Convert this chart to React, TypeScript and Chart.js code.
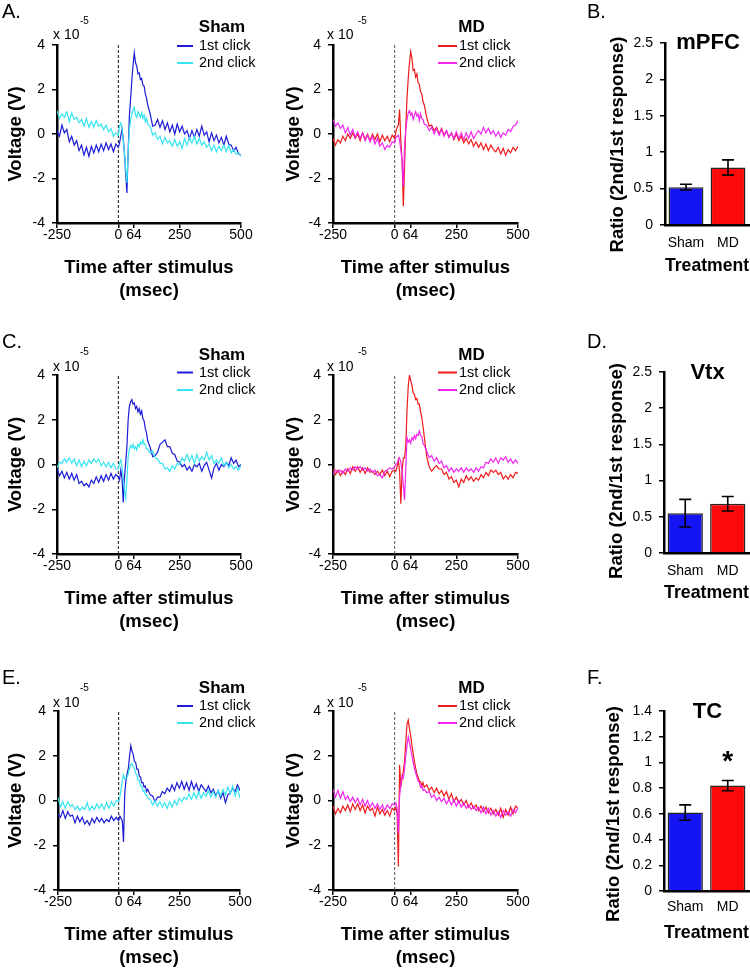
import React, { useEffect, useRef } from 'react';
import { Chart, registerables } from 'chart.js';

Chart.register(...registerables);

const FONT = "'Liberation Sans', Arial, Helvetica, sans-serif";
Chart.defaults.font.family = FONT;
Chart.defaults.color = '#000';

// ---------------- DATA ----------------
// time after stimulus (msec)
const T = [
  -250, -240, -230, -220, -210, -200, -190, -180, -170, -160, -150, -140, -130, -120, -110, -100, -90, -80, -70, -60, -50, -40, -30, -20, -10,
  0, 5, 10, 15, 20, 25, 30, 35, 40, 45, 50, 55, 60, 65, 70, 75, 80, 85, 90, 95, 100, 105, 110, 115, 120,
  130, 140, 150, 160, 170, 180, 190, 200, 210, 220, 230, 240, 250, 260, 270, 280, 290, 300, 310, 320, 330, 340, 350, 360, 370, 380, 390, 400, 410, 420, 430, 440, 450, 460, 470, 480, 490, 500,
];
const X_TICKS = [-250, 0, 64, 250, 500];
const Y_TICKS = [-4, -2, 0, 2, 4];
const STIM_TIME = 0;

// voltage (x 10^-5 V)
const MPFC_SHAM_1ST = [
  0.15, -0.1, 0.4, 0.05, 0.2, -0.35, -0.1, -0.5, -0.3, -0.75, -0.5, -0.95, -0.6, -1.0, -0.55, -0.85, -0.5, -0.8, -0.45, -0.75, -0.4, -0.7, -0.45, -0.8, -0.45,
  -0.6, -0.4, -0.1, 0.2, -0.2, -0.9, -1.8, -2.65, -0.8, 0.8, 1.6, 2.4, 3.1, 3.65, 3.2, 3.05, 2.7, 2.75, 2.45, 2.5, 2.2, 2.15, 1.8, 1.6, 1.3,
  0.9, 0.35, 0.4, 0.65, 0.3, 0.6, 0.2, 0.5, 0.1, 0.4, 0.0, 0.45, 0.1, 0.35, 0.0, 0.15, -0.2, 0.15, -0.15, 0.2, -0.1, 0.35, -0.05, 0.1, -0.35, 0.05, -0.3, -0.05, -0.4, -0.15, -0.5, -0.1, -0.45, -0.5, -0.75, -0.6, -0.9, -0.95,
];
const MPFC_SHAM_2ND = [
  1.05, 0.7, 0.9, 0.75, 1.0, 0.55, 0.95, 0.65, 0.75, 0.5, 0.65, 0.35, 0.7, 0.3, 0.55, 0.3, 0.6, 0.35, 0.45, 0.2, 0.4, 0.1, 0.25, -0.1, 0.05,
  -0.05, 0.35, 0.5, 0.3, -0.3, -0.8, -1.6, -2.2, -0.8, 0.2, 0.6, 0.9, 1.1, 1.2, 0.85, 0.75, 1.0, 0.9, 0.75, 0.95, 0.7, 0.85, 0.55, 0.7, 0.45,
  0.35, -0.05, 0.05, -0.25, -0.1, -0.45, -0.15, -0.4, -0.3, -0.55, -0.25, -0.55, -0.35, -0.65, -0.2, -0.5, -0.15, -0.4, -0.1, -0.45, -0.2, -0.5, -0.35, -0.6, -0.45, -0.75, -0.5, -0.8, -0.55, -0.75, -0.5, -0.8, -0.5, -0.85, -0.7, -0.9, -0.85, -1.0,
];
const MPFC_MD_1ST = [
  -0.2, -0.5, -0.25, -0.4, -0.1, -0.3, 0.0, -0.2, 0.05, -0.2, 0.0, -0.3, 0.05, -0.25, 0.0, -0.3, 0.0, -0.25, 0.0, -0.35, -0.05, -0.3, -0.1, -0.35, -0.05,
  -0.2, 0.1, 0.3, 0.4, 1.1, -0.3, -1.2, -3.25, -1.5, 0.3, 1.6, 2.5, 3.2, 3.7, 3.4, 2.85, 2.9, 2.55, 2.7, 2.3, 2.25, 1.9, 1.8, 1.45, 1.3,
  0.75, 0.35, 0.4, 0.15, 0.3, 0.0, 0.25, -0.05, 0.15, -0.15, 0.05, -0.25, 0.0, -0.3, -0.1, -0.4, -0.2, -0.45, -0.25, -0.55, -0.35, -0.6, -0.4, -0.7, -0.45, -0.75, -0.5, -0.7, -0.8, -0.6, -0.9, -0.65, -0.95, -0.7, -0.85, -0.6, -0.75, -0.55,
];
const MPFC_MD_2ND = [
  0.65, 0.35, 0.5, 0.25, 0.4, 0.05, 0.3, -0.05, 0.2, -0.15, 0.1, -0.2, 0.05, -0.3, -0.05, -0.35, -0.1, -0.45, -0.2, -0.55, -0.4, -0.7, -0.5, -0.6, -0.35,
  -0.4, -0.15, -0.1, -0.05, -0.3, -0.7, -1.2, -2.35, -0.6, 0.2, 0.65, 0.95, 1.05, 0.85, 0.95, 0.65, 0.85, 1.0, 0.8, 0.9, 0.6, 0.9, 0.7, 0.65, 0.45,
  0.4, 0.15, 0.3, 0.0, 0.25, -0.05, 0.2, -0.1, 0.15, -0.15, 0.05, -0.2, 0.1, -0.2, 0.05, -0.25, 0.05, -0.2, 0.1, -0.2, 0.0, 0.15, 0.0, 0.3, 0.05, 0.25, 0.0, 0.15, -0.1, 0.1, -0.15, 0.05, -0.05, 0.2, 0.1, 0.35, 0.4, 0.6,
];
const VTX_SHAM_1ST = [
  -0.2, -0.5, -0.3, -0.6, -0.35, -0.65, -0.4, -0.7, -0.45, -0.85, -0.75, -0.95, -0.85, -1.0, -0.7, -0.85, -0.55, -0.8, -0.5, -0.75, -0.45, -0.7, -0.4, -0.65, -0.45,
  -0.55, -0.7, -0.25, -0.6, -1.7, -0.6, 0.1, 0.8, 2.0, 2.6, 2.8, 2.9, 2.7, 2.75, 2.5, 2.6, 2.35, 2.5, 2.25, 2.4, 2.05, 1.95, 1.6, 1.4, 1.05,
  0.75, 0.35, 0.4, 0.55, 0.9, 1.0, 1.1, 0.8, 0.8, 0.5, 0.45, 0.15, 0.1, -0.1, 0.0, -0.25, -0.1, -0.3, 0.0, -0.1, 0.05, -0.3, -0.05, 0.1, -0.25, -0.6, -0.15, 0.05, -0.25, 0.0, -0.1, 0.1, -0.05, 0.3, 0.05, 0.2, -0.1, 0.0,
];
const VTX_SHAM_2ND = [
  -0.15, 0.1, 0.05, 0.25, 0.1, 0.3, 0.05, 0.25, -0.05, 0.2, -0.1, 0.15, -0.05, 0.2, 0.05, 0.25, 0.1, 0.25, -0.05, 0.1, -0.1, 0.1, -0.15, 0.05, -0.2,
  -0.2, 0.05, 0.2, -0.1, -0.55, -1.15, -1.5, -0.7, 0.35, 0.7, 0.85, 0.75, 0.9, 0.7, 0.8, 0.65, 0.9, 0.8, 1.0, 0.9, 1.1, 0.9, 0.9, 0.7, 0.7,
  0.5, 0.6, 0.3, 0.25, 0.05, 0.05, -0.2, -0.15, -0.3, -0.05, -0.2, 0.05, 0.0, 0.3, 0.15, 0.45, 0.15, 0.4, 0.05, 0.45, 0.15, 0.35, 0.2, 0.55, 0.2, 0.4, 0.05, 0.2, 0.05, 0.3, -0.05, 0.1, -0.15, 0.0, -0.2, -0.1, -0.25, -0.05,
];
const VTX_MD_1ST = [
  -0.2, -0.45, -0.25, -0.5, -0.3, -0.45, -0.2, -0.4, -0.1, -0.3, -0.1, -0.35, -0.15, -0.4, -0.15, -0.35, -0.3, -0.45, -0.3, -0.45, -0.25, -0.5, -0.3, -0.55, -0.3,
  -0.25, -0.3, -0.1, 0.2, -0.3, -1.75, -0.3, 0.3, 0.3, 0.8, 2.4, 3.5, 4.0, 3.75, 3.55, 3.2, 3.15, 2.9, 2.95, 2.7, 2.7, 2.35, 2.1, 1.7, 1.25,
  0.35, -0.1, -0.3, -0.15, -0.05, -0.2, -0.2, -0.45, -0.35, -0.65, -0.55, -0.8, -0.7, -1.0, -0.65, -0.8, -0.5, -0.7, -0.55, -0.75, -0.6, -0.7, -0.45, -0.6, -0.35, -0.5, -0.25, -0.35, -0.25, -0.45, -0.35, -0.65, -0.5, -0.65, -0.45, -0.6, -0.35, -0.4,
];
const VTX_MD_2ND = [
  -0.45, -0.25, -0.35, -0.25, -0.4, -0.2, -0.3, -0.15, -0.25, -0.1, -0.2, -0.1, -0.25, -0.15, -0.3, -0.2, -0.35, -0.25, -0.5, -0.45, -0.6, -0.3, -0.25, -0.15, -0.2,
  -0.1, 0.0, 0.05, 0.2, 0.3, 0.1, -0.3, -0.9, -1.6, -0.2, 1.2, 1.0, 1.1, 0.95, 1.2, 1.1, 1.3, 1.15, 1.35, 1.3, 1.5, 1.3, 1.25, 0.95, 0.85,
  0.6, 0.3, 0.4, 0.15, 0.3, 0.05, 0.15, -0.15, -0.05, -0.3, -0.15, -0.35, -0.2, -0.3, -0.15, -0.35, -0.15, -0.3, -0.2, -0.35, -0.15, -0.3, -0.1, -0.15, 0.1, 0.05, 0.25, 0.1, 0.3, 0.05, 0.3, 0.2, 0.35, 0.1, 0.25, 0.05, 0.2, 0.05,
];
const TC_SHAM_1ST = [
  -0.6, -0.75, -0.45, -0.8, -0.5, -0.7, -0.65, -1.0, -0.7, -0.95, -0.75, -1.05, -0.9, -1.1, -0.8, -1.0, -0.75, -0.95, -0.8, -1.0, -0.85, -0.95, -0.7, -0.9, -0.75,
  -0.9, -0.7, -0.8, -0.9, -1.85, 0.3, 0.9, 1.2, 1.45, 2.0, 2.45, 2.2, 2.05, 1.75, 1.7, 1.4, 1.4, 1.1, 1.05, 0.8, 0.8, 0.6, 0.65, 0.4, 0.5,
  0.25, 0.2, -0.05, 0.15, 0.15, 0.4, 0.3, 0.55, 0.4, 0.7, 0.45, 0.8, 0.55, 0.85, 0.5, 0.8, 0.45, 0.85, 0.5, 0.75, 0.4, 0.7, 0.55, 0.4, 0.65, 0.35, 0.5, 0.2, 0.45, 0.1, 0.35, -0.1, 0.25, 0.35, 0.55, 0.4, 0.7, 0.45,
];
const TC_SHAM_2ND = [
  0.15, -0.3, -0.05, -0.35, -0.05, -0.25, -0.2, -0.4, -0.25, -0.45, -0.3, -0.4, -0.1, -0.45, -0.25, -0.4, -0.15, -0.35, -0.15, -0.4, -0.1, -0.35, -0.05, -0.25, 0.0,
  -0.05, 0.15, 0.5, 0.9, 1.15, 0.95, 1.0, 1.05, 1.2, 1.45, 1.6, 1.65, 1.5, 1.45, 1.2, 1.15, 0.9, 0.9, 0.65, 0.65, 0.4, 0.45, 0.25, 0.25, 0.1,
  0.05, -0.2, 0.0, -0.25, -0.05, -0.3, -0.1, -0.35, -0.05, -0.3, 0.0, -0.2, 0.1, -0.05, 0.15, 0.05, 0.3, 0.05, 0.35, 0.1, 0.4, 0.1, 0.35, 0.2, 0.45, 0.15, 0.4, 0.15, 0.45, 0.2, 0.5, 0.25, 0.6, 0.3, 0.65, 0.2, 0.55, 0.1,
];
const TC_MD_1ST = [
  -0.25, -0.6, -0.35, -0.55, -0.25, -0.45, -0.2, -0.5, -0.15, -0.4, -0.15, -0.45, -0.2, -0.55, -0.25, -0.45, -0.35, -0.7, -0.3, -0.6, -0.4, -0.65, -0.45, -0.7, -0.35,
  -0.45, -0.3, -0.6, -2.95, 1.6, 0.6, 1.0, 1.3, 1.75, 2.6, 3.4, 3.6, 3.2, 2.9, 2.45, 2.1, 1.75, 1.45, 1.2, 1.05, 0.85, 0.85, 0.65, 0.8, 0.6,
  0.7, 0.45, 0.6, 0.35, 0.55, 0.3, 0.45, 0.2, 0.4, 0.05, 0.3, -0.05, 0.15, -0.1, 0.05, -0.2, 0.0, -0.3, -0.1, -0.35, -0.2, -0.45, -0.25, -0.5, -0.3, -0.55, -0.35, -0.6, -0.4, -0.65, -0.35, -0.75, -0.4, -0.65, -0.3, -0.6, -0.25, -0.35,
];
const TC_MD_2ND = [
  0.5, 0.15, 0.45, 0.1, 0.4, 0.05, 0.2, -0.05, 0.15, -0.1, 0.1, -0.2, 0.05, -0.25, 0.0, -0.3, -0.1, -0.35, -0.15, -0.4, -0.2, -0.45, -0.2, -0.35, -0.15,
  -0.2, -0.1, -0.35, -1.45, 0.2, 0.7, 1.1, 1.0, 1.4, 2.0, 2.45, 2.85, 2.6, 2.3, 2.0, 1.7, 1.45, 1.25, 1.05, 0.85, 0.8, 0.6, 0.65, 0.45, 0.5,
  0.35, 0.4, 0.15, 0.25, 0.0, 0.15, -0.05, 0.1, -0.15, 0.05, -0.2, 0.05, -0.25, 0.0, -0.3, -0.1, -0.35, -0.2, -0.4, -0.25, -0.45, -0.3, -0.55, -0.3, -0.6, -0.35, -0.65, -0.45, -0.7, -0.5, -0.75, -0.45, -0.65, -0.5, -0.7, -0.4, -0.55, -0.3,
];

// ratio (2nd/1st response)
const CATEGORIES = ['Sham', 'MD'];
const MPFC_RATIO = [0.52, 0.79];
const MPFC_SEM = [0.04, 0.105];
const VTX_RATIO = [0.55, 0.68];
const VTX_SEM = [0.19, 0.1];
const TC_RATIO = [0.61, 0.82];
const TC_SEM = [0.06, 0.04];
const TC_SIGNIFICANT = [false, true];

// ---------------- STYLE / LAYOUT ----------------
const BLUE = '#1c1cd6';
const CYAN = '#36e4f0';
const RED = '#ee1c1c';
const MAGENTA = '#f026ee';
const BAR_BLUE = '#1414f4';
const BAR_RED = '#fa0a0a';
const TITLE_SIZE = 18.5;
const TITLE_LH = 23;

type Box = { x: number; y: number; w: number; h: number };
type Plot = { L: number; R: number; T: number; B: number };
type TextItem = { text: string; x: number; y: number; size: number; bold?: boolean; align?: CanvasTextAlign; rot?: number; base?: CanvasTextBaseline };
type SegItem = { x1: number; y1: number; x2: number; y2: number; color: string; width: number };

function decorPlugin(box: Box, texts: TextItem[], segs: SegItem[]) {
  return {
    id: 'decor',
    afterDraw(chart: any) {
      const ctx = chart.ctx as CanvasRenderingContext2D;
      ctx.save();
      for (const s of segs) {
        ctx.beginPath();
        ctx.strokeStyle = s.color;
        ctx.lineWidth = s.width;
        ctx.moveTo(s.x1 - box.x, s.y1 - box.y);
        ctx.lineTo(s.x2 - box.x, s.y2 - box.y);
        ctx.stroke();
      }
      for (const t of texts) {
        ctx.save();
        ctx.translate(t.x - box.x, t.y - box.y);
        if (t.rot) ctx.rotate(t.rot);
        ctx.font = `${t.bold ? 'bold ' : ''}${t.size}px ${FONT}`;
        ctx.fillStyle = '#000';
        ctx.textAlign = t.align ?? 'left';
        ctx.textBaseline = t.base ?? 'middle';
        ctx.fillText(t.text, 0, 0);
        ctx.restore();
      }
      ctx.restore();
    },
  };
}

function errorBarPlugin(sem: number[], star: boolean[]) {
  return {
    id: 'errbars',
    afterDatasetsDraw(chart: any) {
      const ctx = chart.ctx as CanvasRenderingContext2D;
      const ys = chart.scales.y;
      const vals = chart.data.datasets[0].data as number[];
      const meta = chart.getDatasetMeta(0);
      ctx.save();
      ctx.strokeStyle = '#000';
      ctx.lineWidth = 1.6;
      meta.data.forEach((bar: any, i: number) => {
        const x = bar.x;
        const hi = ys.getPixelForValue(vals[i] + sem[i]);
        const lo = ys.getPixelForValue(vals[i] - sem[i]);
        ctx.beginPath();
        ctx.moveTo(x, hi); ctx.lineTo(x, lo);
        ctx.moveTo(x - 6, hi); ctx.lineTo(x + 6, hi);
        ctx.moveTo(x - 6, lo); ctx.lineTo(x + 6, lo);
        ctx.stroke();
        if (star[i]) {
          ctx.font = `bold 28px ${FONT}`;
          ctx.fillStyle = '#000';
          ctx.textAlign = 'center';
          ctx.textBaseline = 'alphabetic';
          ctx.fillText('*', x, hi - 10);
        }
      });
      ctx.restore();
    },
  };
}

const axisGrid = { display: true, drawOnChartArea: false, drawTicks: true, tickLength: 5, color: '#000', lineWidth: 1.5 };
const axisBorder = { display: true, color: '#000', width: 2.5 };

type RowMeta = { box: [number, number]; plotTB: [number, number]; letterY: number; lgTitleY: number; e1: number; e2: number; xtenY: number; supY: number };
const ROWS: RowMeta[] = [
  { box: [0, 310], plotTB: [45, 223], letterY: 12, lgTitleY: 27, e1: 46, e2: 63, xtenY: 35, supY: 21.5 },
  { box: [310, 330], plotTB: [375, 554], letterY: 342, lgTitleY: 355, e1: 372.5, e2: 390, xtenY: 366.7, supY: 352 },
  { box: [640, 329], plotTB: [711, 890], letterY: 678, lgTitleY: 688, e1: 706, e2: 723, xtenY: 703, supY: 688 },
];
const COLS = {
  sham: { x: 0, w: 268, L: [57, 57, 58], R: [241, 241, 240], yTitleX: 15.5, lgCenter: 222, seg: [177, 193], textX: 199, xtenX: 53, supX: 80, dash: '#111' },
  md: { x: 268, w: 312, L: [333, 333, 333], R: [518, 518, 518], yTitleX: 294, lgCenter: 471.5, seg: [438, 457], textX: 459, xtenX: 327, supX: 358, dash: '#555' },
};

type LinePanel = { row: number; col: 'sham' | 'md'; letter?: string; group: string; first: number[]; second: number[]; colors: [string, string] };
const LINE_PANELS: LinePanel[] = [
  { row: 0, col: 'sham', letter: 'A.', group: 'Sham', first: MPFC_SHAM_1ST, second: MPFC_SHAM_2ND, colors: [BLUE, CYAN] },
  { row: 0, col: 'md', group: 'MD', first: MPFC_MD_1ST, second: MPFC_MD_2ND, colors: [RED, MAGENTA] },
  { row: 1, col: 'sham', letter: 'C.', group: 'Sham', first: VTX_SHAM_1ST, second: VTX_SHAM_2ND, colors: [BLUE, CYAN] },
  { row: 1, col: 'md', group: 'MD', first: VTX_MD_1ST, second: VTX_MD_2ND, colors: [RED, MAGENTA] },
  { row: 2, col: 'sham', letter: 'E.', group: 'Sham', first: TC_SHAM_1ST, second: TC_SHAM_2ND, colors: [BLUE, CYAN] },
  { row: 2, col: 'md', group: 'MD', first: TC_MD_1ST, second: TC_MD_2ND, colors: [RED, MAGENTA] },
];

type BarPanel = { row: number; letter: string; region: string; values: number[]; sem: number[]; star: boolean[]; max: number; step: number; L: number; T: number; B: number; yTitle: [number, number]; titleY: number; labelOff: number; treatOff: number };
const BAR_BOX_X = 580;
const BAR_BOX_W = 170;
const BAR_R = 749;
const BAR_PANELS: BarPanel[] = [
  { row: 0, letter: 'B.', region: 'mPFC', values: MPFC_RATIO, sem: MPFC_SEM, star: [false, false], max: 2.5, step: 0.5, L: 665, T: 43, B: 225, yTitle: [617.5, 144.5], titleY: 43, labelOff: 17.7, treatOff: 40.7 },
  { row: 1, letter: 'D.', region: 'Vtx', values: VTX_RATIO, sem: VTX_SEM, star: [false, false], max: 2.5, step: 0.5, L: 664, T: 372, B: 553, yTitle: [617, 471], titleY: 373, labelOff: 17.7, treatOff: 40 },
  { row: 2, letter: 'F.', region: 'TC', values: TC_RATIO, sem: TC_SEM, star: TC_SIGNIFICANT, max: 1.4, step: 0.2, L: 664, T: 711, B: 891, yTitle: [613.5, 814], titleY: 712, labelOff: 16.5, treatOff: 42 },
];

function lineConfig(p: LinePanel) {
  const r = ROWS[p.row];
  const c = COLS[p.col];
  const box: Box = { x: c.x, y: r.box[0], w: c.w, h: r.box[1] };
  const plot: Plot = { L: c.L[p.row], R: c.R[p.row], T: r.plotTB[0], B: r.plotTB[1] };
  const texts: TextItem[] = [
    { text: 'x 10', x: c.xtenX, y: r.xtenY, size: 14 },
    { text: '-5', x: c.supX, y: r.supY, size: 10 },
    { text: p.group, x: c.lgCenter, y: r.lgTitleY, size: 17, bold: true, align: 'center' },
    { text: '1st click', x: c.textX, y: r.e1, size: 14.5 },
    { text: '2nd click', x: c.textX, y: r.e2, size: 14.5 },
  ];
  if (p.letter) texts.push({ text: p.letter, x: 2, y: r.letterY, size: 20 });
  const segs: SegItem[] = [
    { x1: c.seg[0], y1: r.e1, x2: c.seg[1], y2: r.e1, color: p.colors[0], width: 2 },
    { x1: c.seg[0], y1: r.e2, x2: c.seg[1], y2: r.e2, color: p.colors[1], width: 2 },
  ];
  const xTitlePad = box.y + box.h - (plot.B + 45) - 1.5 * TITLE_LH;
  return {
    box,
    config: {
      type: 'line',
      data: {
        datasets: [
          { label: '2nd click', data: T.map((t, i) => ({ x: t, y: p.second[i] })), borderColor: p.colors[1], borderWidth: 1.2, pointRadius: 0, order: 0 },
          { label: '1st click', data: T.map((t, i) => ({ x: t, y: p.first[i] })), borderColor: p.colors[0], borderWidth: 1.2, pointRadius: 0, order: 1 },
          { label: 'stimulus', data: [{ x: STIM_TIME, y: Y_TICKS[0] }, { x: STIM_TIME, y: Y_TICKS[Y_TICKS.length - 1] }], borderColor: c.dash, borderDash: [3, 2], borderWidth: 1, pointRadius: 0, order: 2 },
        ],
      },
      options: {
        responsive: false,
        animation: false,
        events: [],
        layout: { padding: { left: 0, top: plot.T - box.y, right: box.x + box.w - plot.R, bottom: 0 } },
        plugins: { legend: { display: false }, tooltip: { enabled: false } },
        scales: {
          x: {
            type: 'linear',
            min: X_TICKS[0],
            max: X_TICKS[X_TICKS.length - 1],
            afterBuildTicks: (s: any) => { s.ticks = X_TICKS.map((v) => ({ value: v })); },
            afterFit: (s: any) => { s.height = box.y + box.h - plot.B; },
            ticks: { autoSkip: false, maxRotation: 0, padding: 0, color: '#000', font: { size: 14, lineHeight: 1 }, callback: (v: any) => String(v) },
            grid: axisGrid,
            border: axisBorder,
            title: { display: true, text: ['Time after stimulus', '(msec)'], color: '#000', font: { size: TITLE_SIZE, weight: 'bold', lineHeight: TITLE_LH / TITLE_SIZE }, padding: { top: 0, bottom: xTitlePad } },
          },
          y: {
            type: 'linear',
            min: Y_TICKS[0],
            max: Y_TICKS[Y_TICKS.length - 1],
            afterBuildTicks: (s: any) => { s.ticks = Y_TICKS.map((v) => ({ value: v })); },
            afterFit: (s: any) => { s.width = plot.L - box.x; },
            ticks: { padding: 7, color: '#000', font: { size: 14, lineHeight: 1 }, callback: (v: any) => String(v) },
            grid: axisGrid,
            border: axisBorder,
            title: { display: true, text: 'Voltage (V)', color: '#000', font: { size: TITLE_SIZE, weight: 'bold', lineHeight: TITLE_LH / TITLE_SIZE }, padding: { top: c.yTitleX - box.x - TITLE_LH / 2, bottom: 0 } },
          },
        },
      },
      plugins: [decorPlugin(box, texts, segs)],
    },
  };
}

function barConfig(p: BarPanel) {
  const r = ROWS[p.row];
  const box: Box = { x: BAR_BOX_X, y: r.box[0], w: BAR_BOX_W, h: r.box[1] };
  const plot: Plot = { L: p.L, R: BAR_R, T: p.T, B: p.B };
  const texts: TextItem[] = [
    { text: p.letter, x: 587, y: r.letterY, size: 20 },
    { text: p.region, x: (plot.L + plot.R) / 2 + 1, y: p.titleY, size: 22, bold: true, align: 'center' },
    { text: 'Ratio (2nd/1st response)', x: p.yTitle[0], y: p.yTitle[1], size: TITLE_SIZE, bold: true, align: 'center', rot: -Math.PI / 2 },
  ];
  const treatPad = box.y + box.h - (plot.B + p.treatOff) - TITLE_LH / 2;
  return {
    box,
    config: {
      type: 'bar',
      data: {
        labels: CATEGORIES,
        datasets: [{ data: p.values, backgroundColor: [BAR_BLUE, BAR_RED], borderColor: '#262626', borderWidth: 1.5, barPercentage: 0.83, categoryPercentage: 1 }],
      },
      options: {
        responsive: false,
        animation: false,
        events: [],
        layout: { padding: { left: 0, top: plot.T - box.y, right: box.x + box.w - plot.R, bottom: 0 } },
        plugins: { legend: { display: false }, tooltip: { enabled: false } },
        scales: {
          x: {
            afterFit: (s: any) => { s.height = box.y + box.h - plot.B; },
            grid: { display: false, drawTicks: false },
            border: axisBorder,
            ticks: { autoSkip: false, maxRotation: 0, minRotation: 0, color: '#000', padding: p.labelOff - 7, font: { size: 14, lineHeight: 1 } },
            title: { display: true, text: 'Treatment', color: '#000', font: { size: TITLE_SIZE, weight: 'bold', lineHeight: TITLE_LH / TITLE_SIZE }, padding: { top: 0, bottom: treatPad } },
          },
          y: {
            min: 0,
            max: p.max,
            afterFit: (s: any) => { s.width = plot.L - box.x; },
            ticks: { stepSize: p.step, padding: 7, color: '#000', font: { size: 14, lineHeight: 1 }, callback: (v: any) => String(Math.round(Number(v) * 10) / 10) },
            grid: axisGrid,
            border: axisBorder,
          },
        },
      },
      plugins: [decorPlugin(box, texts, []), errorBarPlugin(p.sem, p.star)],
    },
  };
}

function ChartCanvas({ spec }: { spec: { box: Box; config: any } }) {
  const ref = useRef<HTMLCanvasElement>(null);
  useEffect(() => {
    const chart = new Chart(ref.current as HTMLCanvasElement, spec.config);
    return () => chart.destroy();
  }, []);
  const b = spec.box;
  return (
    <canvas
      ref={ref}
      width={b.w}
      height={b.h}
      style={{ position: 'absolute', left: b.x, top: b.y, width: b.w, height: b.h }}
    />
  );
}

export default function App() {
  const specs = [...LINE_PANELS.map(lineConfig), ...BAR_PANELS.map(barConfig)];
  return (
    <div style={{ position: 'absolute', left: 0, top: 0, width: 750, height: 969, background: '#fff', overflow: 'hidden' }}>
      {specs.map((s, i) => (
        <ChartCanvas key={i} spec={s} />
      ))}
    </div>
  );
}
